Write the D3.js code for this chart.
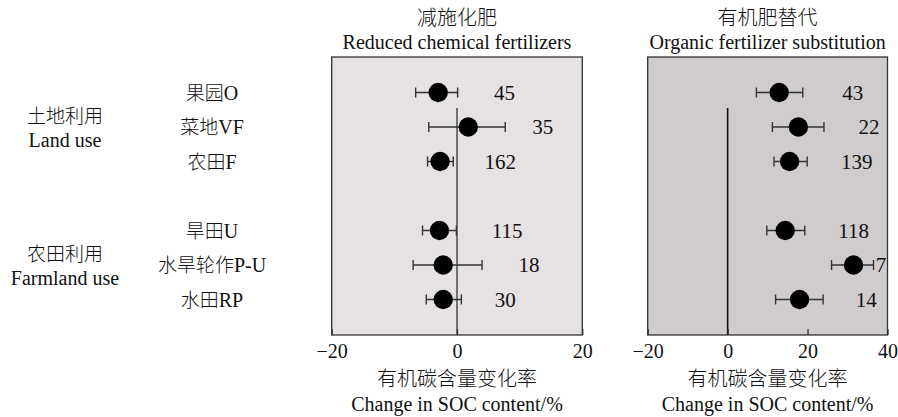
<!DOCTYPE html>
<html>
<head>
<meta charset="utf-8">
<script src="https://cdn.jsdelivr.net/npm/d3@7"></script>
<style>
  body { margin: 0; background: #fff; }
  svg text { font-family: "Liberation Serif", "Times New Roman", serif; fill: #111; }
  svg .cjk { font-family: "Noto Sans CJK SC", sans-serif; font-weight: 300; }
</style>
</head>
<body>
<svg id="chart"></svg>
<script>
// categories (row order top to bottom), slot index leaves a gap between the two groups
const rowLabels = ["果园O", "菜地VF", "农田F", "旱田U", "水旱轮作P-U", "水田RP"];
const rowSlots = [0, 1, 2, 4, 5, 6];
const groupLabels = [
    {cn: "土地利用", en: "Land use", slot: 1},
    {cn: "农田利用", en: "Farmland use", slot: 5}
];

// reduced chemical fertilizers: mean, lower CI, upper CI, sample size
const redMean = [-3.0, 1.8, -2.7, -2.8, -2.2, -2.2];
const redLow  = [-6.6, -4.5, -4.7, -5.5, -7.0, -4.9];
const redHigh = [0.1, 7.7, -0.6, -0.1, 4.0, 0.7];
const redN    = [45, 35, 162, 115, 18, 30];
const redNAt  = [7.6, 13.7, 6.9, 8.0, 11.5, 7.7];   // where the n label sits, in axis units

// organic fertilizer substitution
const orgMean = [12.9, 17.7, 15.5, 14.4, 31.5, 18.0];
const orgLow  = [7.2, 11.2, 11.6, 9.8, 26.0, 12.0];
const orgHigh = [18.8, 24.1, 19.9, 19.3, 36.5, 23.9];
const orgN    = [43, 22, 139, 118, 7, 14];
const orgNAt  = [31.3, 35.4, 32.3, 31.5, 38.4, 34.7];

const redTicks = [-20, 0, 20];
const orgTicks = [-20, 0, 20, 40];

const W = 898, H = 417;
const plotTop = 57, plotBottom = 335;
const fs = 20, fsCn = 19;

const svg = d3.select("#chart").attr("width", W).attr("height", H);

const yScale = d3.scaleLinear().domain([0, 6]).range([92.5, 299.5]);

// left side labels
svg.append("g").selectAll("text")
    .data(rowLabels)
    .join("text")
    .attr("x", 212)
    .attr("y", (d, i) => yScale(rowSlots[i]))
    .attr("dy", "0.35em")
    .attr("text-anchor", "middle")
    .attr("font-size", fs)
    .each(function(d) {
        // chinese part + latin code part
        const m = d.match(/^([^A-Z]+)(.*)$/);
        const t = d3.select(this);
        t.append("tspan").attr("class", "cjk").attr("font-size", fsCn).text(m[1]);
        t.append("tspan").text(m[2]);
    });

groupLabels.forEach(g => {
    const y = yScale(g.slot);
    svg.append("text").attr("class", "cjk")
        .attr("x", 65).attr("y", y - 4)
        .attr("text-anchor", "middle").attr("font-size", fsCn)
        .text(g.cn);
    svg.append("text")
        .attr("x", 65).attr("y", y + 20)
        .attr("text-anchor", "middle").attr("font-size", fs)
        .text(g.en);
});

function drawPanel(cfg) {
    const x = d3.scaleLinear().domain(cfg.domain).range([cfg.left, cfg.right]);
    const g = svg.append("g");

    g.append("rect")
        .attr("x", cfg.left).attr("y", plotTop)
        .attr("width", cfg.right - cfg.left).attr("height", plotBottom - plotTop)
        .attr("fill", cfg.fill)
        .attr("stroke", "#333").attr("stroke-width", 1.3);

    // zero reference line
    g.append("line")
        .attr("x1", x(0)).attr("x2", x(0))
        .attr("y1", 108).attr("y2", plotBottom)
        .attr("stroke", cfg.zeroColor).attr("stroke-width", 1.6);

    const axis = d3.axisBottom(x)
        .tickValues(cfg.ticks)
        .tickSizeInner(-6)
        .tickSizeOuter(0)
        .tickPadding(9);
    const ax = g.append("g")
        .attr("transform", `translate(0,${plotBottom})`)
        .call(axis);
    ax.select(".domain").remove();
    ax.selectAll(".tick line").attr("stroke", "#333").attr("stroke-width", 1.3);
    ax.selectAll(".tick text")
        .attr("font-size", 20)
        .attr("fill", "#111");

    const cx = (cfg.left + cfg.right) / 2;
    g.append("text").attr("class", "cjk")
        .attr("x", cx).attr("y", 25)
        .attr("text-anchor", "middle").attr("font-size", 20)
        .text(cfg.titleCn);
    g.append("text")
        .attr("x", cx).attr("y", 49)
        .attr("text-anchor", "middle").attr("font-size", fs)
        .text(cfg.titleEn);

    g.append("text").attr("class", "cjk")
        .attr("x", cx).attr("y", 386)
        .attr("text-anchor", "middle").attr("font-size", 20)
        .text("有机碳含量变化率");
    g.append("text")
        .attr("x", cx).attr("y", 411)
        .attr("text-anchor", "middle").attr("font-size", fs)
        .text("Change in SOC content/%");

    const rows = cfg.mean.map((m, i) => ({
        mean: m, lo: cfg.low[i], hi: cfg.high[i], n: cfg.n[i], nAt: cfg.nAt[i], y: yScale(rowSlots[i])
    }));

    const row = g.selectAll(".row").data(rows).join("g").attr("class", "row");
    row.append("line")
        .attr("x1", d => x(d.lo)).attr("x2", d => x(d.hi))
        .attr("y1", d => d.y).attr("y2", d => d.y)
        .attr("stroke", "#333").attr("stroke-width", 1.4);
    row.append("line")
        .attr("x1", d => x(d.lo)).attr("x2", d => x(d.lo))
        .attr("y1", d => d.y - 5).attr("y2", d => d.y + 5)
        .attr("stroke", "#333").attr("stroke-width", 1.4);
    row.append("line")
        .attr("x1", d => x(d.hi)).attr("x2", d => x(d.hi))
        .attr("y1", d => d.y - 5).attr("y2", d => d.y + 5)
        .attr("stroke", "#333").attr("stroke-width", 1.4);
    row.append("circle")
        .attr("cx", d => x(d.mean)).attr("cy", d => d.y)
        .attr("r", 9.7).attr("fill", "#000");
    row.append("text")
        .attr("x", d => x(d.nAt)).attr("y", d => d.y)
        .attr("dy", "0.35em")
        .attr("text-anchor", "middle").attr("font-size", 21)
        .text(d => d.n);
}

drawPanel({
    left: 331.7, right: 582.3, domain: [-20, 20], ticks: redTicks,
    fill: "#e6e1e3", zeroColor: "#555",
    titleCn: "减施化肥", titleEn: "Reduced chemical fertilizers",
    mean: redMean, low: redLow, high: redHigh, n: redN, nAt: redNAt
});

drawPanel({
    left: 647.7, right: 887.5, domain: [-20, 40], ticks: orgTicks,
    fill: "#d0cccd", zeroColor: "#111",
    titleCn: "有机肥替代", titleEn: "Organic fertilizer substitution",
    mean: orgMean, low: orgLow, high: orgHigh, n: orgN, nAt: orgNAt
});
</script>
</body>
</html>
